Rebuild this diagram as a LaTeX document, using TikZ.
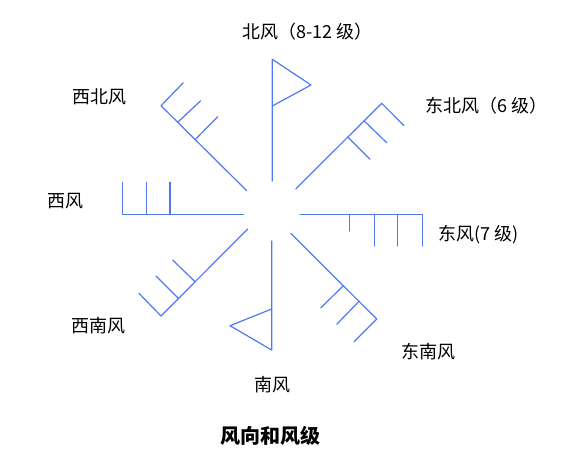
\documentclass[tikz,border=0pt]{standalone}
\usepackage{fontspec}
\setmainfont{Noto Sans CJK SC}
\definecolor{windblue}{RGB}{80,120,245}
\tikzset{
  barb/.style={draw=windblue, line width=1.2pt, line cap=round, line join=round},
  lbl/.style={inner sep=0pt, anchor=west, font=\fontsize{18}{18}\selectfont},
  ttl/.style={inner sep=0pt, anchor=west, font=\fontsize{20}{20}\selectfont\bfseries}
}
\begin{document}
\begin{tikzpicture}[x=1pt,y=-1pt]
\useasboundingbox (0,0) rectangle (588,464);
% North
\draw[barb] (272.3,181) -- (272.3,59.3) -- (311,85) -- (272.3,106);
% South
\draw[barb] (271.7,241) -- (271.7,350) -- (230,325.7) -- (271.7,309);
% North-west
\draw[barb] (246.7,190.7) -- (161,105.7) -- (183.3,82.7);
\draw[barb] (178.3,121.7) -- (200.7,100.7);
\draw[barb] (195.7,139) -- (217.7,116.7);
% North-east
\draw[barb] (295.7,189) -- (381.7,103.3) -- (404,125.7);
\draw[barb] (364,120.7) -- (386.7,142.7);
\draw[barb] (347.7,137) -- (370,159.3);
% West
\draw[barb] (243.3,214.3) -- (122.3,214.3) -- (122.3,182.3);
\draw[barb] (146.7,214.3) -- (146.7,182.3);
\draw[barb] (170,214.3) -- (170,182.3);
% East
\draw[barb] (300,214.3) -- (422.3,214.3) -- (422.3,246);
\draw[barb] (349.7,214.3) -- (349.7,231);
\draw[barb] (374.3,214.3) -- (374.3,246);
\draw[barb] (397.7,214.3) -- (397.7,246);
% South-west
\draw[barb] (247.7,229) -- (161,316) -- (139,293.3);
\draw[barb] (178.7,298.7) -- (156,276);
\draw[barb] (195,281.7) -- (172.7,260);
% South-east
\draw[barb] (290.7,233.3) -- (376.7,319) -- (354,341.7);
\draw[barb] (359.3,301) -- (336.7,324.3);
\draw[barb] (343.3,285.7) -- (320.7,308);
% Labels
\node[lbl] (n) at (242,32) {北风（8-12 级）};
\node[lbl] (ne) at (425,106) {东北风（6 级）};
\node[lbl] (e) at (438,235) {东风(7 级)};
\node[lbl] (se) at (401,352) {东南风};
\node[lbl] (s) at (254,385) {南风};
\node[lbl] (sw) at (71,326) {西南风};
\node[lbl] (w) at (47,201) {西风};
\node[lbl] (nw) at (72,97) {西北风};
\node[ttl] (t) at (220,436) {风向和风级};
\end{tikzpicture}
\end{document}
